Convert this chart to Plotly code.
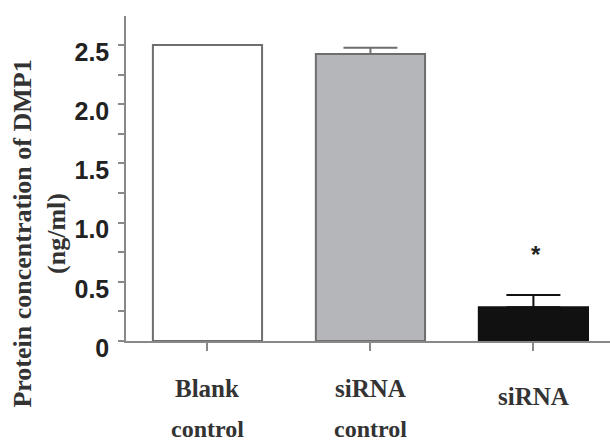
import plotly.graph_objects as go

categories = ["Blank control", "siRNA control", "siRNA"]
label_line1 = ["Blank", "siRNA", "siRNA"]
label_line2 = ["control", "control", ""]
values = [2.50, 2.424, 0.285]
errors = [0.0, 0.053, 0.104]
fills = ["#ffffff", "#b5b6b9", "#111111"]
edges = ["#6e6e6e", "#6e6e6e", "#111111"]
err_colors = ["#6e6e6e", "#6e6e6e", "#111111"]
ytick_vals = [0, 0.5, 1.0, 1.5, 2.0, 2.5]
ytick_text = ["0", "0.5", "1.0", "1.5", "2.0", "2.5"]
sig_marks = ["", "", "*"]
sig_y = [None, None, 0.73]

fig = go.Figure()
for i, c in enumerate(categories):
    fig.add_trace(go.Bar(
        x=[i], y=[values[i]], width=0.67,
        marker=dict(color=fills[i], line=dict(color=edges[i], width=2)),
        error_y=dict(type="data", symmetric=False, array=[errors[i]], arrayminus=[0],
                     color=err_colors[i], thickness=2, width=27, visible=errors[i] > 0),
        showlegend=False, name=c,
    ))

for i in range(len(categories)):
    if sig_marks[i]:
        fig.add_annotation(x=i, y=sig_y[i], xref="x", yref="y", text="<b>%s</b>" % sig_marks[i],
                           xanchor="center", yanchor="middle", xshift=3,
                           showarrow=False, font=dict(family="Liberation Sans", size=24, color="#222"))
    two = bool(label_line2[i])
    fig.add_annotation(x=i, y=-0.147 if two else -0.172, xref="x", yref="paper",
                       xanchor="center", yanchor="middle",
                       text="<b>%s</b>" % label_line1[i], showarrow=False,
                       font=dict(family="Liberation Serif", size=25, color="#333"))
    if two:
        fig.add_annotation(x=i, y=-0.270, xref="x", yref="paper",
                           xanchor="center", yanchor="middle",
                           text="<b>%s</b>" % label_line2[i], showarrow=False,
                           font=dict(family="Liberation Serif", size=24, color="#333"))

fig.add_annotation(x=-0.178, y=0.33, xref="paper", yref="paper",
                   xanchor="center", yanchor="middle",
                   text="<b>Protein concentration of DMP1<br>(ng/ml)</b>",
                   textangle=-90, showarrow=False,
                   font=dict(family="Liberation Serif", size=26, color="#333"))

fig.update_layout(
    width=610, height=441,
    margin=dict(l=126, r=0, t=16, b=100, autoexpand=False),
    plot_bgcolor="white", paper_bgcolor="white",
    xaxis=dict(range=[-0.5, 2.47], tickvals=[0, 1, 2], ticktext=["", "", ""],
               ticks="outside", ticklen=8, tickcolor="#888", tickwidth=1.5,
               showline=True, linecolor="#888", linewidth=1.5, showgrid=False, zeroline=False,
               automargin=False),
    yaxis=dict(range=[0, 2.746], tickvals=ytick_vals, ticktext=ytick_text,
               ticks="outside", ticklen=6, tickcolor="#888", tickwidth=1.5,
               minor=dict(ticks="outside", dtick=0.25, ticklen=6, tickcolor="#888", tickwidth=1.5),
               showline=True, linecolor="#888", linewidth=1.5, showgrid=False, zeroline=False,
               tickfont=dict(family="Liberation Sans", size=25, color="#222", weight="bold"),
               ticklabelstandoff=4, ticklabelshift=7, automargin=False),
)
fig.write_html("out.html", config={"displayModeBar": False},
               post_script="document.body.style.margin='0';")
